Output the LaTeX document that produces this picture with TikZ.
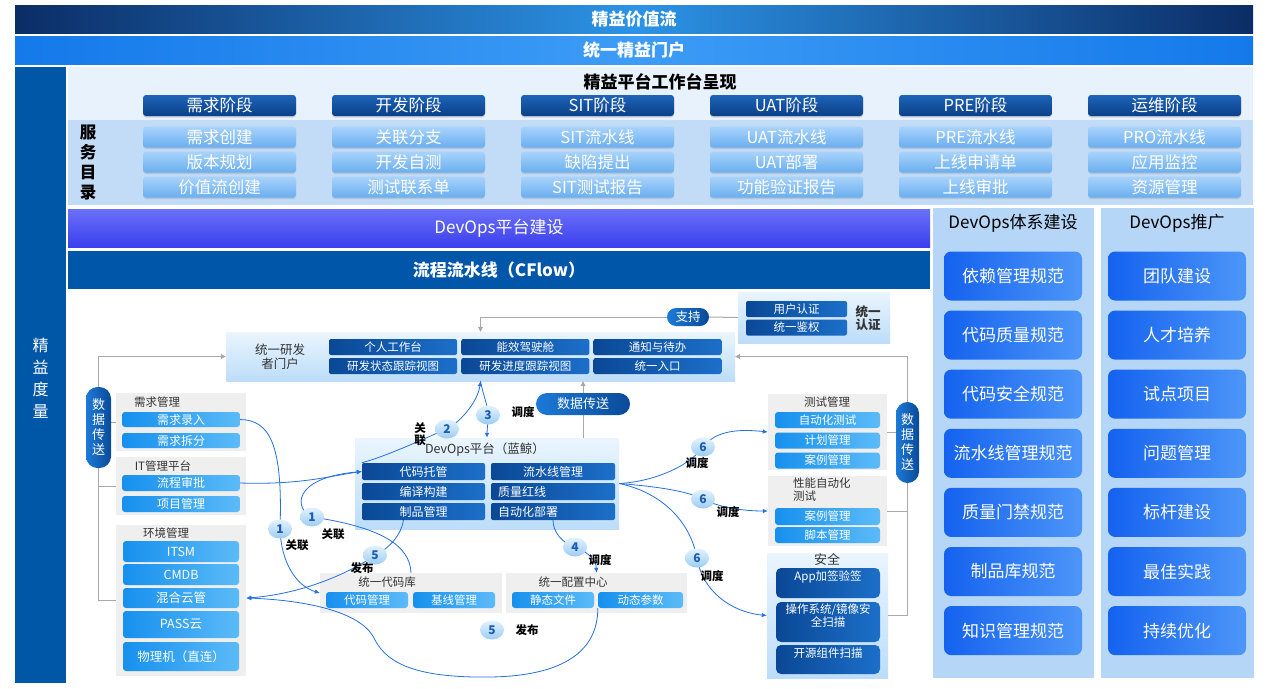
\documentclass[tikz,border=0pt]{standalone}
\usepackage{fontspec}
\setmainfont{Noto Sans CJK SC}
\usepackage{tikz}
\usetikzlibrary{arrows.meta,calc,positioning,shapes.geometric,shadows}
\definecolor{navyblue}{HTML}{0B2D66}
\definecolor{skymid}{HTML}{2C93E6}
\definecolor{portalblue}{HTML}{1479EA}
\definecolor{portalmid}{HTML}{3D9CF6}
\definecolor{metricblue}{HTML}{0057A8}
\definecolor{platbg}{HTML}{E8F2FC}
\definecolor{svcband}{HTML}{C2DBF6}
\definecolor{stagetop}{HTML}{1E64B8}
\definecolor{stagebot}{HTML}{0A3F88}
\definecolor{svctop}{HTML}{A8D3FB}
\definecolor{svcbot}{HTML}{6AAEF0}
\definecolor{buildtop}{HTML}{6B70F8}
\definecolor{buildbot}{HTML}{3B3FEE}
\definecolor{flowblue}{HTML}{0056A8}
\definecolor{sidepanel}{HTML}{B6D6F8}
\definecolor{sideA}{HTML}{1462EF}
\definecolor{sideB}{HTML}{4D96F8}
\definecolor{darkA}{HTML}{0A4896}
\definecolor{darkB}{HTML}{1C6FC9}
\definecolor{brightA}{HTML}{1690EE}
\definecolor{brightB}{HTML}{5CBBF8}
\definecolor{panelgray}{HTML}{EFEFEF}
\definecolor{boxtop}{HTML}{EAF5FE}
\definecolor{boxbot}{HTML}{BCDDF9}
\definecolor{dottop}{HTML}{E3F2FE}
\definecolor{dotbot}{HTML}{9CCDF3}
\definecolor{numblue}{HTML}{1A5DB2}
\definecolor{linkblue}{HTML}{2470E0}
\definecolor{linegray}{HTML}{A9A9A9}
\definecolor{titlegray}{HTML}{333333}
\definecolor{pilltop}{HTML}{1C7AD8}
\definecolor{pillbot}{HTML}{0A4A98}
\newcommand{\fsz}[2]{\fontsize{#1}{#2}\selectfont}
\pgfdeclarelayer{front}
\pgfsetlayers{main,front}

\begin{document}
\begin{tikzpicture}[x=1pt,y=-1pt,
  every node/.style={inner sep=0pt},
  stagebtn/.style={rounded corners=3pt,top color=stagetop,bottom color=stagebot,text=white,minimum width=153pt,minimum height=21pt,font=\fsz{16.5}{19},drop shadow={opacity=0.3,shadow xshift=0pt,shadow yshift=-1.5pt}},
  svcbtn/.style={rounded corners=3pt,top color=svctop,bottom color=svcbot,text=white,minimum width=153pt,minimum height=21pt,font=\fsz{16.5}{19},drop shadow={opacity=0.25,shadow xshift=0pt,shadow yshift=-1.5pt}},
  sidebtn/.style={rounded corners=7pt,left color=sideA,right color=sideB,text=white,minimum width=138pt,minimum height=49pt,font=\fsz{17}{20}},
  darkbtn/.style={rounded corners=2pt,left color=darkA,right color=darkB,text=white,font=\fsz{11.5}{13}},
  brightbtn/.style={rounded corners=3pt,left color=brightA,right color=brightB,text=white,font=\fsz{12}{14}},
  graybox/.style={fill=panelgray},
  lightbox/.style={top color=boxtop,bottom color=boxbot},
  boxtitle/.style={text=titlegray,font=\fsz{11.5}{13}},
  pill/.style={left color=pilltop,right color=pillbot,text=white},
  stepdot/.style={ellipse,minimum width=24pt,minimum height=19pt,top color=dottop,bottom color=dotbot,text=numblue,font=\bfseries\fsz{12}{14}},
  tag/.style={text=black,font=\bfseries\fsz{11.5}{12.5},align=center},
  link/.style={draw=linkblue,line width=0.8pt,-{Latex[length=5pt,width=4.5pt]}},
  feed/.style={draw=linegray,line width=1pt},
  feedarrow/.style={feed,-{Triangle[length=5pt,width=5pt]}}]
  \def\colgap{189}
  \def\rowgap{59.1}
  \useasboundingbox (0,0) rectangle (1268,688);
  \fill[white] (0,0) rectangle (1268,688);

  % top bars
  \node[minimum width=1238pt,minimum height=28pt,left color=navyblue,right color=navyblue,middle color=skymid,text=white,font=\bfseries\fsz{17}{20}] (valuebar) at (634,19) {精益价值流};
  \node[minimum width=1238pt,minimum height=28pt,left color=portalblue,right color=portalblue,middle color=portalmid,text=white,font=\bfseries\fsz{17}{20}] (portalbar) at (634,50) {统一精益门户};
  \node[fill=metricblue,minimum width=51pt,minimum height=616pt] (metric) at (40.5,375) {};
  \node[text=white,font=\fsz{16}{22},align=center] (metricname) at (40.5,378) {精\\益\\度\\量};

  % workbench
  \node[fill=platbg,minimum width=1185pt,minimum height=53pt] (platbg) at (660.5,93.5) {};
  \node[fill=svcband,minimum width=1185pt,minimum height=85pt] (svcband) at (660.5,162.5) {};
  \node[font=\bfseries\fsz{17}{20}] (platname) at (660,82) {精益平台工作台呈现};
  \node[font=\bfseries\fsz{16.5}{20},align=center] (svcname) at (88,163) {服\\务\\目\\录};
  \foreach \st [count=\i] in {需求阶段,开发阶段,SIT阶段,UAT阶段,PRE阶段,运维阶段}
    \node[stagebtn] (st\i) at ({219.5+\colgap*(\i-1)},105.5) {\st};
  \foreach \ra/\rb/\rc [count=\i] in {需求创建/版本规划/价值流创建,关联分支/开发自测/测试联系单,SIT流水线/缺陷提出/SIT测试报告,UAT流水线/UAT部署/功能验证报告,PRE流水线/上线申请单/上线审批,PRO流水线/应用监控/资源管理}{
    \node[svcbtn] (sva\i) at ({219.5+\colgap*(\i-1)},137) {\ra};
    \node[svcbtn] (svb\i) at ({219.5+\colgap*(\i-1)},162) {\rb};
    \node[svcbtn] (svc\i) at ({219.5+\colgap*(\i-1)},187) {\rc};
  }

  % platform bars
  \node[minimum width=862pt,minimum height=38pt,top color=buildtop,bottom color=buildbot,text=white,font=\fsz{17}{20}] (buildbar) at (499,228) {DevOps平台建设};
  \node[minimum width=862pt,minimum height=38pt,fill=flowblue,text=white,font=\bfseries\fsz{17}{20}] (flowbar) at (499,270) {流程流水线（CFlow）};

  % right columns
  \node[fill=sidepanel,minimum width=161pt,minimum height=470pt] (normpanel) at (1013.5,443) {};
  \node[fill=sidepanel,minimum width=153pt,minimum height=470pt] (promopanel) at (1177.5,443) {};
  \node[font=\fsz{17}{20}] (normname) at (1013,223) {DevOps体系建设};
  \node[font=\fsz{17}{20}] (promoname) at (1177,223) {DevOps推广};
  \foreach \txt [count=\i] in {依赖管理规范,代码质量规范,代码安全规范,流水线管理规范,质量门禁规范,制品库规范,知识管理规范}
    \node[sidebtn] (norm\i) at (1013,{276+\rowgap*(\i-1)}) {\txt};
  \foreach \txt [count=\i] in {团队建设,人才培养,试点项目,问题管理,标杆建设,最佳实践,持续优化}
    \node[sidebtn] (promo\i) at (1177,{276+\rowgap*(\i-1)}) {\txt};

  % portal and auth
  \node[lightbox,minimum width=509pt,minimum height=49pt] (portal) at (480.5,356.5) {};
  \node[text=titlegray,font=\fsz{12.5}{14},align=center] (portalname) at (280,357) {统一研发\\者门户};
  \foreach \ta/\tb [count=\i] in {个人工作台/研发状态跟踪视图,能效驾驶舱/研发进度跟踪视图,通知与待办/统一入口}{
    \node[darkbtn,minimum width=128pt,minimum height=16pt] (pa\i) at ({393+132.25*(\i-1)},347) {\ta};
    \node[darkbtn,minimum width=128pt,minimum height=16pt] (pb\i) at ({393+132.25*(\i-1)},366) {\tb};
  }
  \node[lightbox,minimum width=152pt,minimum height=51pt] (auth) at (814,317.5) {};
  \node[darkbtn,minimum width=101pt,minimum height=16pt] (auth1) at (796.5,309) {用户认证};
  \node[darkbtn,minimum width=101pt,minimum height=16pt] (auth2) at (796.5,327.5) {统一鉴权};
  \node[text=titlegray,font=\bfseries\fsz{12.5}{13.5},align=left] (authname) at (868,318) {统一\\认证};

  % left systems
  \node[graybox,minimum width=130pt,minimum height=58pt] (req) at (181,422) {};
  \node[boxtitle] (reqname) at (157,402) {需求管理};
  \node[brightbtn,minimum width=118pt,minimum height=15pt] (rq1) at (181,419.5) {需求录入};
  \node[brightbtn,minimum width=118pt,minimum height=15pt] (rq2) at (181,440.5) {需求拆分};
  \node[graybox,minimum width=130pt,minimum height=58pt] (it) at (181,486) {};
  \node[boxtitle] (itname) at (163,466) {IT管理平台};
  \node[brightbtn,minimum width=118pt,minimum height=16pt] (it1) at (181,483) {流程审批};
  \node[brightbtn,minimum width=118pt,minimum height=16pt] (it2) at (181,504) {项目管理};
  \node[graybox,minimum width=130pt,minimum height=151pt] (env) at (181,600.5) {};
  \node[boxtitle] (envname) at (166,533) {环境管理};
  \foreach \t/\y/\h [count=\i] in {ITSM/551.5/21,CMDB/574.5/21,混合云管/598/20,PASS云/624.5/27,物理机（直连）/656.5/29}
    \node[brightbtn,minimum width=116pt,minimum height=\h*1pt,font=\fsz{12.5}{14}] (e\i) at (181,\y) {\t};

  % devops core
  \node[lightbox,minimum width=264pt,minimum height=91pt] (dev) at (487,483.5) {};
  \node[text=titlegray,font=\fsz{12.5}{14}] (devname) at (485,450) {DevOps平台（蓝鲸）};
  \node[darkbtn,minimum width=123pt,minimum height=17pt,font=\fsz{12}{14}] (d1) at (423.5,471.5) {代码托管};
  \node[darkbtn,minimum width=124pt,minimum height=17pt,font=\fsz{12}{14}] (d2) at (553,471.5) {流水线管理};
  \node[darkbtn,minimum width=123pt,minimum height=17pt,font=\fsz{12}{14}] (d3) at (423.5,491.5) {编译构建};
  \node[darkbtn,minimum width=124pt,minimum height=17pt,font=\fsz{12}{14},text width=110pt,align=left] (d4) at (553,491.5) {质量红线};
  \node[darkbtn,minimum width=123pt,minimum height=17pt,font=\fsz{12}{14}] (d5) at (423.5,511.5) {制品管理};
  \node[darkbtn,minimum width=124pt,minimum height=17pt,font=\fsz{12}{14},text width=110pt,align=left] (d6) at (553,511.5) {自动化部署};

  % code and config
  \node[graybox,minimum width=182pt,minimum height=40pt] (repo) at (411,593) {};
  \node[boxtitle] (reponame) at (387,582) {统一代码库};
  \node[brightbtn,minimum width=82pt,minimum height=16pt,font=\fsz{11.5}{13}] (r1) at (367,600) {代码管理};
  \node[brightbtn,minimum width=82pt,minimum height=16pt,font=\fsz{11.5}{13}] (r2) at (454,600) {基线管理};
  \node[graybox,minimum width=181pt,minimum height=40pt] (cfg) at (596.5,593) {};
  \node[boxtitle] (cfgname) at (573,582) {统一配置中心};
  \node[brightbtn,minimum width=82pt,minimum height=16pt,font=\fsz{11.5}{13}] (g1) at (553,600) {静态文件};
  \node[brightbtn,minimum width=85pt,minimum height=16pt,font=\fsz{11.5}{13}] (g2) at (640.5,600) {动态参数};

  % test, perf, security
  \node[graybox,minimum width=119pt,minimum height=76pt] (test) at (827.5,432) {};
  \node[boxtitle] (testname) at (827,402) {测试管理};
  \node[brightbtn,minimum width=105pt,minimum height=16pt,font=\fsz{11.5}{13}] (t1) at (827.5,420) {自动化测试};
  \node[brightbtn,minimum width=105pt,minimum height=16pt,font=\fsz{11.5}{13}] (t2) at (827.5,440.5) {计划管理};
  \node[brightbtn,minimum width=105pt,minimum height=16pt,font=\fsz{11.5}{13}] (t3) at (827.5,460.5) {案例管理};
  \node[graybox,minimum width=119pt,minimum height=70pt] (perf) at (827.5,511) {};
  \node[boxtitle,align=left,anchor=west] (perfname) at (793,490) {性能自动化\\测试};
  \node[brightbtn,minimum width=105pt,minimum height=17pt,font=\fsz{11.5}{13}] (p1) at (827.5,516.5) {案例管理};
  \node[brightbtn,minimum width=105pt,minimum height=16pt,font=\fsz{11.5}{13}] (p2) at (827.5,535) {脚本管理};
  \node[lightbox,minimum width=121pt,minimum height=125pt] (sec) at (827.5,615.5) {};
  \node[text=titlegray,font=\fsz{13}{15}] (secname) at (827,559) {安全};
  \node[darkbtn,rounded corners=5pt,minimum width=104pt,minimum height=30pt] (s1) at (828,583) {};
  \node[darkbtn,rounded corners=5pt,minimum width=104pt,minimum height=40pt] (s2) at (828,622) {};
  \node[darkbtn,rounded corners=5pt,minimum width=104pt,minimum height=29pt] (s3) at (828,659.5) {};
  \node[text=white,font=\fsz{11.5}{12.5},below=3pt of s1.north] (s1name) {App加签验签};
  \node[text=white,font=\fsz{11.5}{12.5},align=center,below=2pt of s2.north] (s2name) {操作系统/镜像安\\全扫描};
  \node[text=white,font=\fsz{11.5}{12.5},below=3pt of s3.north] (s3name) {开源组件扫描};

  % pills, steps and tags
  \begin{pgfonlayer}{front}
    \node[pill,rounded corners=9pt,minimum width=42pt,minimum height=18pt,font=\fsz{12.5}{14}] (support) at (688,317) {支持};
    \node[pill,rounded corners=11pt,minimum width=94pt,minimum height=22pt,font=\fsz{13}{15}] (dtc) at (583,404) {数据传送};
    \node[pill,rounded corners=11.5pt,minimum width=25pt,minimum height=81pt,align=center,font=\fsz{13}{15}] (dtl) at (98.5,427.5) {数\\据\\传\\送};
    \node[pill,rounded corners=11.5pt,minimum width=23pt,minimum height=81pt,align=center,font=\fsz{13}{15}] (dtr) at (907.5,442.5) {数\\据\\传\\送};
    \node[stepdot] (c1a) at (280,529) {1};
    \node[stepdot] (c1b) at (312,517) {1};
    \node[stepdot] (c2) at (447,429) {2};
    \node[stepdot] (c3) at (488,415) {3};
    \node[stepdot] (c4) at (575,547) {4};
    \node[stepdot] (c5a) at (375,555) {5};
    \node[stepdot] (c5b) at (492,630) {5};
    \node[stepdot] (c6a) at (703,447) {6};
    \node[stepdot] (c6b) at (703,499) {6};
    \node[stepdot] (c6c) at (697,558) {6};
    \node[tag] (tag1a) at (297,545) {关联};
    \node[tag] (tag1b) at (333,534) {关联};
    \node[tag] (tag2) at (420,434) {关\\联};
    \node[tag] (tag3) at (523,412) {调度};
    \node[tag] (tag4) at (600,560) {调度};
    \node[tag] (tag5a) at (362,568) {发布};
    \node[tag] (tag5b) at (527,630) {发布};
    \node[tag] (tag6a) at (697,463) {调度};
    \node[tag] (tag6b) at (728,512) {调度};
    \node[tag] (tag6c) at (712,576) {调度};
  \end{pgfonlayer}

  % data feeds
  \draw[feed] (auth.west) -- (support.east);
  \draw[feedarrow] (support.west) -| (portal.north);
  \draw[feedarrow] (dtl.north) |- (portal.west);
  \draw[feed] (dtl.south) |- (env.west);
  \draw[feed] (it.west) -- (it.west -| dtl);
  \draw[feed] (req.west) -- (req.west -| dtl.east);
  \draw[feedarrow] (dtr.north) |- (portal.east);
  \draw[feed] (dtr.south) |- (sec.east);
  \draw[feed] (test.east) -- (test.east -| dtr.west);
  \draw[feed] (perf.east) -- (perf.east -| dtr);
  \draw[feedarrow] (dtc |- dev.north) -- (dtc |- portal.south);

  % flows
  \draw[link] (rq1.east) .. controls (270,420) and (283,445) .. (c1a.center) .. controls (281,562) and (296,586) .. (repo.west);
  \draw[link] (it1.east) .. controls (300,485) and (330,476) .. (d1.west);
  \draw[link] (repo.north) .. controls (410,545) and (380,527) .. (c1b.center) .. controls (295,510) and (290,478) .. (d1.west);
  \draw[link] (d1.north west) .. controls (390,455) and (425,438) .. (c2.center) .. controls (463,420) and (478,400) .. (portal.south);
  \draw[link] (portal.south) .. controls (483,395) and (488,405) .. (c3.center) .. controls (488,425) and (487,430) .. (dev.north);
  \draw[link] ($(d5.south)+(-20,0)$) .. controls (401,535) and (390,548) .. (c5a.center) .. controls (355,570) and (305,594) .. (e3.east -| env.east);
  \draw[link] (g2.south west) .. controls (598,650) and (565,676) .. (490,677) .. controls (420,678) and (388,665) .. (375,640) .. controls (362,610) and (300,600) .. (e3.east -| env.east);
  \draw[link] (d6.south) .. controls (553,532) and (562,543) .. (c4.center) .. controls (588,552) and (596,560) .. (cfg.north);
  \draw[link] (dev.east) .. controls (650,482) and (688,468) .. (c6a.center) .. controls (716,430) and (740,429) .. (test.west);
  \draw[link] (dev.east) .. controls (650,486) and (685,490) .. (c6b.center) .. controls (720,508) and (745,511) .. (perf.west);
  \draw[link] (dev.east) .. controls (660,492) and (690,520) .. (c6c.center) .. controls (702,590) and (730,612) .. (sec.west);
\end{tikzpicture}
\end{document}
